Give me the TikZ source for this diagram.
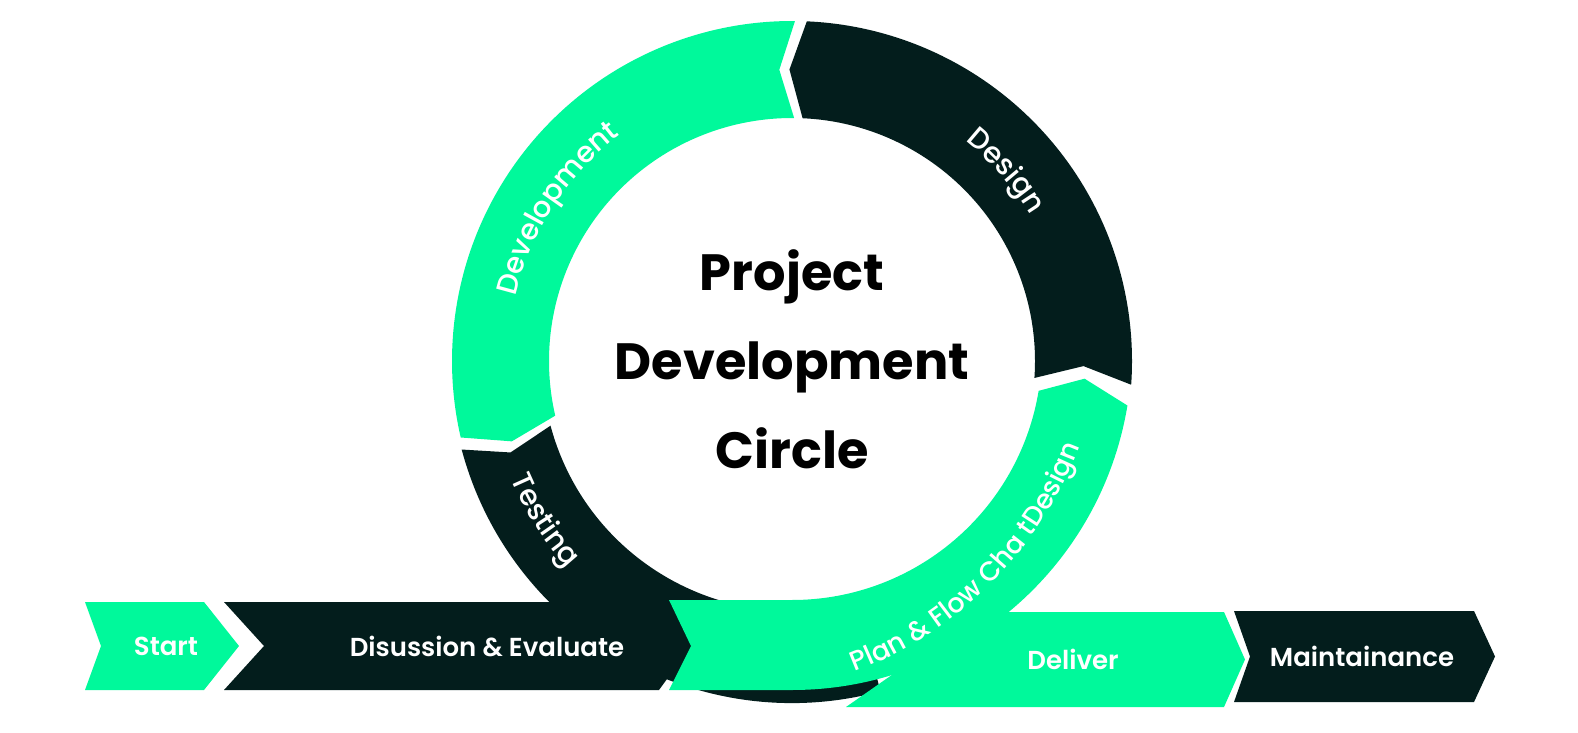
\documentclass[tikz,border=0pt]{standalone}
\usepackage{fontspec}
\setmainfont{Poppins}
\newfontfamily\medfont{Poppins Medium}
\newfontfamily\semifont{Poppins SemiBold}
\usetikzlibrary{decorations.text}

\definecolor{mint}{HTML}{00F99B}
\definecolor{ink}{HTML}{031D1C}

\tikzstyle{band} = [fill=mint]
\tikzstyle{darkband} = [fill=ink]
\tikzstyle{barlabel} = [text=white, inner sep=0pt, font=\semifont\fontsize{26}{30}\selectfont]
\tikzstyle{headline} = [align=center, inner sep=0pt, text=black, font=\bfseries\fontsize{51}{89}\selectfont]
\tikzstyle{ringtext} = [decorate, decoration={text along path, text align=center, text color=white}]
\newcommand{\ringfont}{\medfont\fontsize{29}{34}\selectfont}
\newcommand{\planfont}{\medfont\fontsize{27}{32}\selectfont}

\begin{document}
\begin{tikzpicture}[x=1pt, y=1pt]
    \useasboundingbox (0,0) rectangle (1578,732);
    % First the ring piece that runs under the bars
    \begin{scope}[shift={(792,371)}]
        \path[darkband] (195:342) arc[start angle=195, end angle=285, radius=342]
            -- (285:250) arc[start angle=285, end angle=195, radius=250] -- (198:296) -- cycle;
    \end{scope}
    % Chevron bars: left x / notch / right x / tip / bottom / top / style
    \foreach \xa/\xn/\xb/\xt/\yb/\yt/\sty in {85/101/204/239/42/130/band,
                                             224/264/659/691/42/130/darkband,
                                             1234/1250/1474/1495/30/121/darkband}
        \path[\sty] (\xa,\yt) -- (\xb,\yt) -- (\xt,{(\yb+\yt)/2}) -- (\xb,\yb)
            -- (\xa,\yb) -- (\xn,{(\yb+\yt)/2}) -- cycle;
    \path[band] (846,25) -- (982,120) -- (1224,120) -- (1245,72.5) -- (1224,25) -- cycle;
    % Plan piece: a bar that bends up into the ring
    \begin{scope}[shift={(792,382)}]
        \path[band] (-123,-250) -- (-101,-296) -- (-123,-340) -- (270:340)
            arc[start angle=270, end angle=350.6, radius=340] -- (354.4:294) -- (350.6:250)
            arc[start angle=350.6, end angle=270, radius=250] -- cycle;
    \end{scope}
    \begin{scope}[shift={(717,423)}]
        \path[ringtext, decoration={text={|\planfont|Plan {\&} Flow Cha tDesign}}]
            (-90:388) arc[start angle=-90, end angle=0, radius=388];
    \end{scope}
    % Upper ring pieces
    \begin{scope}[shift={(792,371)}]
        \path[darkband] (-4:340) arc[start angle=-4, end angle=87.5, radius=340] -- (90.5:291.5)
            -- (87.5:243) arc[start angle=87.5, end angle=-4, radius=243] -- (-1:291.5) -- cycle;
        \path[band] (89.5:340) arc[start angle=89.5, end angle=193, radius=340] -- (196:291.5)
            -- (193:243) arc[start angle=193, end angle=89.5, radius=243] -- (92.5:291.5) -- cycle;
        \path[ringtext, decoration={text={|\ringfont|Development}}]
            (192:284) arc[start angle=192, end angle=102, radius=284];
        \path[ringtext, decoration={text={|\ringfont|Design}}]
            (86.6:280) arc[start angle=86.6, end angle=-3.4, radius=280];
        \path[ringtext, decoration={text={|\ringfont|Testing}}]
            (167.7:305) arc[start angle=167.7, end angle=257.7, radius=305];
    \end{scope}
    % Labels
    \foreach \pos/\name/\txt in {{(166,86)/start/Start}, {(487,86)/discuss/Disussion \& Evaluate},
                                 {(1073,73)/deliver/Deliver}, {(1362,76)/maint/Maintainance}}
        \node[barlabel] (\name) at \pos {\txt};
    \node[headline] (title) at (792,373) {Project\\Development\\Circle};
\end{tikzpicture}
\end{document}
